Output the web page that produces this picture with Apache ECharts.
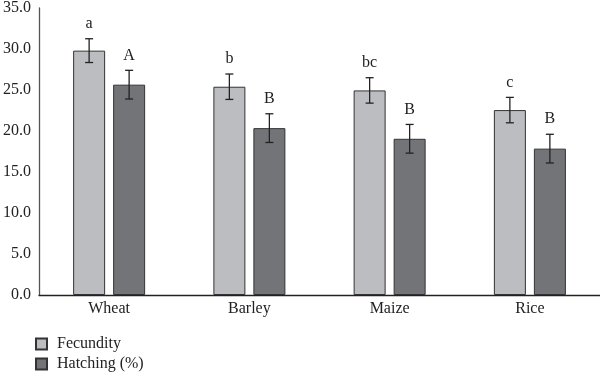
<!DOCTYPE html>
<html><head><meta charset="utf-8">
<script src="https://cdn.jsdelivr.net/npm/echarts@6/dist/echarts.min.js"></script>
<style>html,body{margin:0;padding:0;background:#fff}#c{width:600px;height:373px}</style>
</head><body><div id="c"></div>
<script>
var categories = ['Wheat', 'Barley', 'Maize', 'Rice'];
var fecundity = [29.8, 25.4, 24.95, 22.55];
var fecundityErr = [1.45, 1.55, 1.55, 1.55];
var fecundityLetters = ['a', 'b', 'bc', 'c'];
var hatching = [25.65, 20.35, 19.05, 17.85];
var hatchingErr = [1.75, 1.75, 1.75, 1.75];
var hatchingLetters = ['A', 'B', 'B', 'B'];
var yTicks = { min: 0, max: 35, interval: 5 };

var FONT = '"Liberation Serif", "DejaVu Serif", serif';
var chart = echarts.init(document.getElementById('c'));

function errSeries(vals, errs, letters, offset) {
  return {
    type: 'custom',
    silent: true,
    z: 5,
    data: vals.map(function (v, i) { return [i, v + errs[i], v - errs[i]]; }),
    renderItem: function (params, api) {
      var i = api.value(0);
      var hi = api.coord([i, api.value(1)]);
      var lo = api.coord([i, api.value(2)]);
      var x = hi[0] + offset;
      var cap = 4;
      var st = { stroke: '#222', lineWidth: 1.3 };
      return {
        type: 'group',
        children: [
          { type: 'line', shape: { x1: x, y1: hi[1], x2: x, y2: lo[1] }, style: st },
          { type: 'line', shape: { x1: x - cap, y1: hi[1], x2: x + cap, y2: hi[1] }, style: st },
          { type: 'line', shape: { x1: x - cap, y1: lo[1], x2: x + cap, y2: lo[1] }, style: st },
          { type: 'text', style: { text: letters[params.dataIndex], x: x, y: hi[1] - 7,
              align: 'center', verticalAlign: 'bottom', fill: '#222', font: '16px ' + FONT } }
        ]
      };
    }
  };
}

function legendFor(name, top) {
  return {
    left: 30, top: top, itemWidth: 11, itemHeight: 11, icon: 'rect',
    textStyle: { fontFamily: FONT, fontSize: 16, color: '#222', padding: [0, 0, 0, 5] },
    data: [name]
  };
}

chart.setOption({
  animation: false,
  grid: { left: 35, right: 0, top: 8, bottom: 78 },
  legend: [legendFor('Fecundity', 331), legendFor('Hatching (%)', 351)],
  xAxis: {
    type: 'category', data: categories,
    axisTick: { show: false },
    axisLine: { lineStyle: { color: '#222', width: 1.3 } },
    axisLabel: { fontFamily: FONT, fontSize: 16, color: '#222', margin: 6 }
  },
  yAxis: {
    type: 'value', min: yTicks.min, max: yTicks.max, interval: yTicks.interval,
    splitLine: { show: false },
    axisTick: { show: false },
    axisLine: { show: true, lineStyle: { color: '#555', width: 1.3 } },
    axisLabel: { fontFamily: FONT, fontSize: 16, color: '#222', margin: 8,
      formatter: function (v) { return v.toFixed(1); } }
  },
  series: [
    { name: 'Fecundity', type: 'bar', data: fecundity, barWidth: 32, barGap: '25%',
      itemStyle: { color: '#bcbdc0', borderColor: '#333', borderWidth: 1 } },
    { name: 'Hatching (%)', type: 'bar', data: hatching, barWidth: 32, barGap: '25%',
      itemStyle: { color: '#737478', borderColor: '#333', borderWidth: 1 } },
    errSeries(fecundity, fecundityErr, fecundityLetters, -20),
    errSeries(hatching, hatchingErr, hatchingLetters, 20)
  ]
});
</script></body></html>
